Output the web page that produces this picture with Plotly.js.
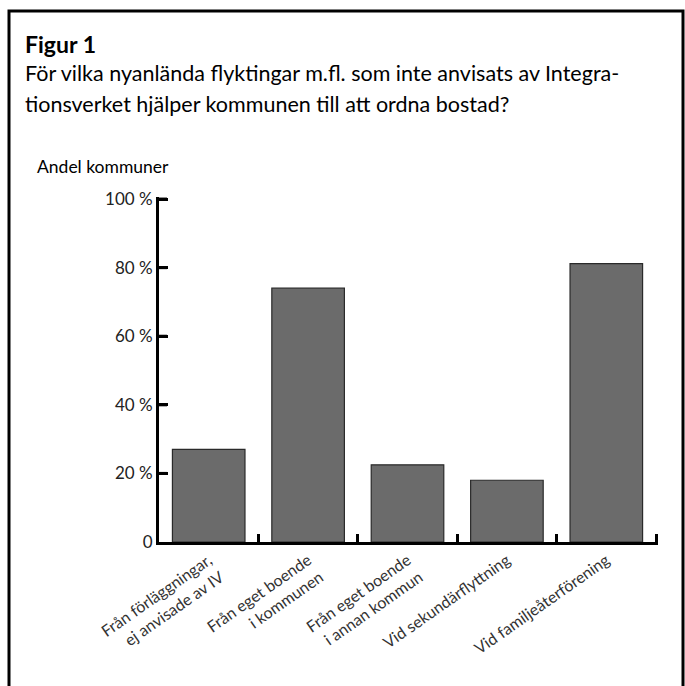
<!DOCTYPE html>
<html>
<head>
<meta charset="utf-8">
<script src="https://cdn.plot.ly/plotly-3.0.1.min.js"></script>
<style>
html,body{margin:0;padding:0;background:#fff;}
#chart{width:685px;height:686px;}
</style>
</head>
<body>
<div id="chart"></div>
<script>
const categories = [
  "Från förläggningar,<br>ej anvisade av IV",
  "Från eget boende<br>i kommunen",
  "Från eget boende<br>i annan kommun",
  "Vid sekundärflyttning",
  "Vid familjeåterförening"
];
const shareOfMunicipalities = [27, 74, 22.5, 18, 81.2];
const yTickValues = [0, 20, 40, 60, 80, 100];
const yTickLabels = ["0", "20 %", "40 %", "60 %", "80 %", "100 %"];
const figureLabel = "Figur 1";
const subtitleLine1 = "För vilka nyanlända flyktingar m.fl. som inte anvisats av Integra-";
const subtitleLine2 = "tionsverket hjälper kommunen till att ordna bostad?";
const yAxisLabel = "Andel kommuner";

const W = 685, H = 686;
const M = {l: 159, r: 27, t: 197, b: 144};
const PW = W - M.l - M.r, PH = H - M.t - M.b;
const px = x => (x - M.l) / PW;
const py = y => (H - M.b - y) / PH;

const FONT = "Lato, 'Open Sans', sans-serif";

const trace = {
  type: "bar",
  x: categories,
  y: shareOfMunicipalities,
  marker: {color: "#6b6b6b", line: {color: "#2a2a2a", width: 1.2}},
  hoverinfo: "skip"
};

// inside tick marks on the value axis, placed through the y scale
const yTickMarks = yTickValues.filter(v => v > 0).map(v => ({
  type: "line", xref: "paper", yref: "y",
  x0: px(157), x1: px(167), y0: v, y1: v,
  line: {color: "#000", width: 3}, layer: "above"
}));

const layout = {
  width: W, height: H,
  margin: M,
  paper_bgcolor: "#fff",
  plot_bgcolor: "#fff",
  showlegend: false,
  bargap: 0.27,
  font: {family: FONT, color: "#222"},
  xaxis: {
    type: "category",
    range: [-0.5, 4.52],
    showline: true, linecolor: "#000", linewidth: 3,
    ticks: "inside", tickson: "boundaries", ticklen: 8, tickwidth: 3, tickcolor: "#000",
    tickangle: -35,
    tickfont: {family: FONT, size: 16, color: "#333"},
    showgrid: false, zeroline: false,
    fixedrange: true
  },
  yaxis: {
    range: [0, 100.6],
    showline: true, linecolor: "#000", linewidth: 3,
    ticks: "inside", ticklen: 9, tickwidth: 3, tickcolor: "#000",
    tickmode: "array", tickvals: yTickValues, ticktext: yTickLabels,
    tickfont: {family: FONT, size: 17, color: "#222"},
    showgrid: false, zeroline: false,
    fixedrange: true
  },
  shapes: [{
    type: "rect", xref: "paper", yref: "paper",
    x0: px(9), x1: px(683), y0: py(720), y1: py(11),
    line: {color: "#000", width: 3}, fillcolor: "rgba(0,0,0,0)", layer: "below"
  }].concat(yTickMarks),
  annotations: [
    {text: "<b>" + figureLabel + "</b>", xref: "paper", yref: "paper", x: px(23), y: py(28),
     xanchor: "left", yanchor: "top", showarrow: false, align: "left",
     font: {family: FONT, size: 23, color: "#000"}},
    {text: subtitleLine1, xref: "paper", yref: "paper", x: px(23), y: py(58),
     xanchor: "left", yanchor: "top", showarrow: false, align: "left",
     font: {family: FONT, size: 21.5, color: "#000"}},
    {text: subtitleLine2, xref: "paper", yref: "paper", x: px(23), y: py(89),
     xanchor: "left", yanchor: "top", showarrow: false, align: "left",
     font: {family: FONT, size: 21.5, color: "#000"}},
    {text: yAxisLabel, xref: "paper", yref: "paper", x: px(35), y: py(154),
     xanchor: "left", yanchor: "top", showarrow: false, align: "left",
     font: {family: FONT, size: 17.5, color: "#000"}}
  ]
};

Plotly.newPlot("chart", [trace], layout, {displayModeBar: false, staticPlot: true});
</script>
</body>
</html>
